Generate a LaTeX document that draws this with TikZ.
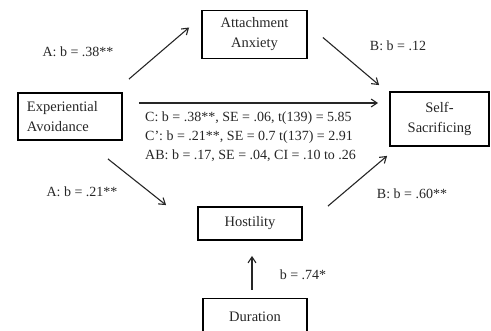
\documentclass[tikz,border=0pt]{standalone}
\usepackage{fontspec}
\setmainfont{Liberation Serif}
\usetikzlibrary{arrows.meta}
\begin{document}
\begin{tikzpicture}[x=1pt,y=-1pt,
  box/.style={draw=black, line width=1.8pt, inner sep=0pt, align=center,
    text=black!85, font=\fontsize{14.5}{20}\selectfont},
  lab/.style={inner sep=0pt, text=black!85, font=\fontsize{14}{17}\selectfont},
  link/.style={line width=1.1pt, draw=black!85,
    -{Straight Barb[length=6pt,width=8pt]}}]
\useasboundingbox (0,0) rectangle (491,331);

% variables
\node[box, minimum width=105pt, minimum height=48pt] (aa) at (254.5,34.5) {Attachment\\Anxiety};
\node[box, text width=86pt, inner xsep=9pt, align=left, minimum height=47pt] (ea) at (70,116.5) {Experiential\\Avoidance};
\node[box, minimum width=99pt, minimum height=54pt] (ss) at (439.5,119) {Self-\\Sacrificing};
\node[box, minimum width=104pt, minimum height=33pt] (ho) at (250,223.5) {Hostility};
\node[box, minimum width=104pt, minimum height=36pt] (du) at (255,316.5) {Duration};

% paths
\draw[link] ([shift={(6,-13)}]ea.north east) -- ([shift={(-12,-7)}]aa.west);
\draw[link] ([shift={(15,3)}]aa.east) -- ([shift={(-10,-6)}]ss.north west);
\coordinate (cstart) at ([shift={(16,-13.5)}]ea.east);
\draw[link, shorten >=11pt] (cstart) -- (cstart -| ss.west);
\draw[link] ([shift={(-15,18)}]ea.south east) -- ([shift={(-31,-1)}]ho.north west);
\draw[link] ([shift={(25,0)}]ho.north east) -- ([shift={(-2,9)}]ss.south west);
\coordinate (dstart) at ([shift={(-3,-8)}]du.north);
\draw[link, shorten >=15pt] (dstart) -- (dstart |- ho.south);

% coefficients
\node[lab] (la1) at (78,52) {A: b = .38**};
\node[lab] (lb1) at (398,46) {B: b = .12};
\node[lab] (la2) at (82,192) {A: b = .21**};
\node[lab] (lb2) at (412,194) {B: b = .60**};
\node[lab] (ld) at (303,275) {b = .74*};
\node[lab, anchor=west] (lc) at (145,118) {C: b = .38**, SE = .06, t(139) = 5.85};
\node[lab, anchor=west] (lcp) at (145,137) {C’: b = .21**, SE = 0.7 t(137) = 2.91};
\node[lab, anchor=west] (lab) at (145,156) {AB: b = .17, SE = .04, CI = .10 to .26};
\end{tikzpicture}
\end{document}
